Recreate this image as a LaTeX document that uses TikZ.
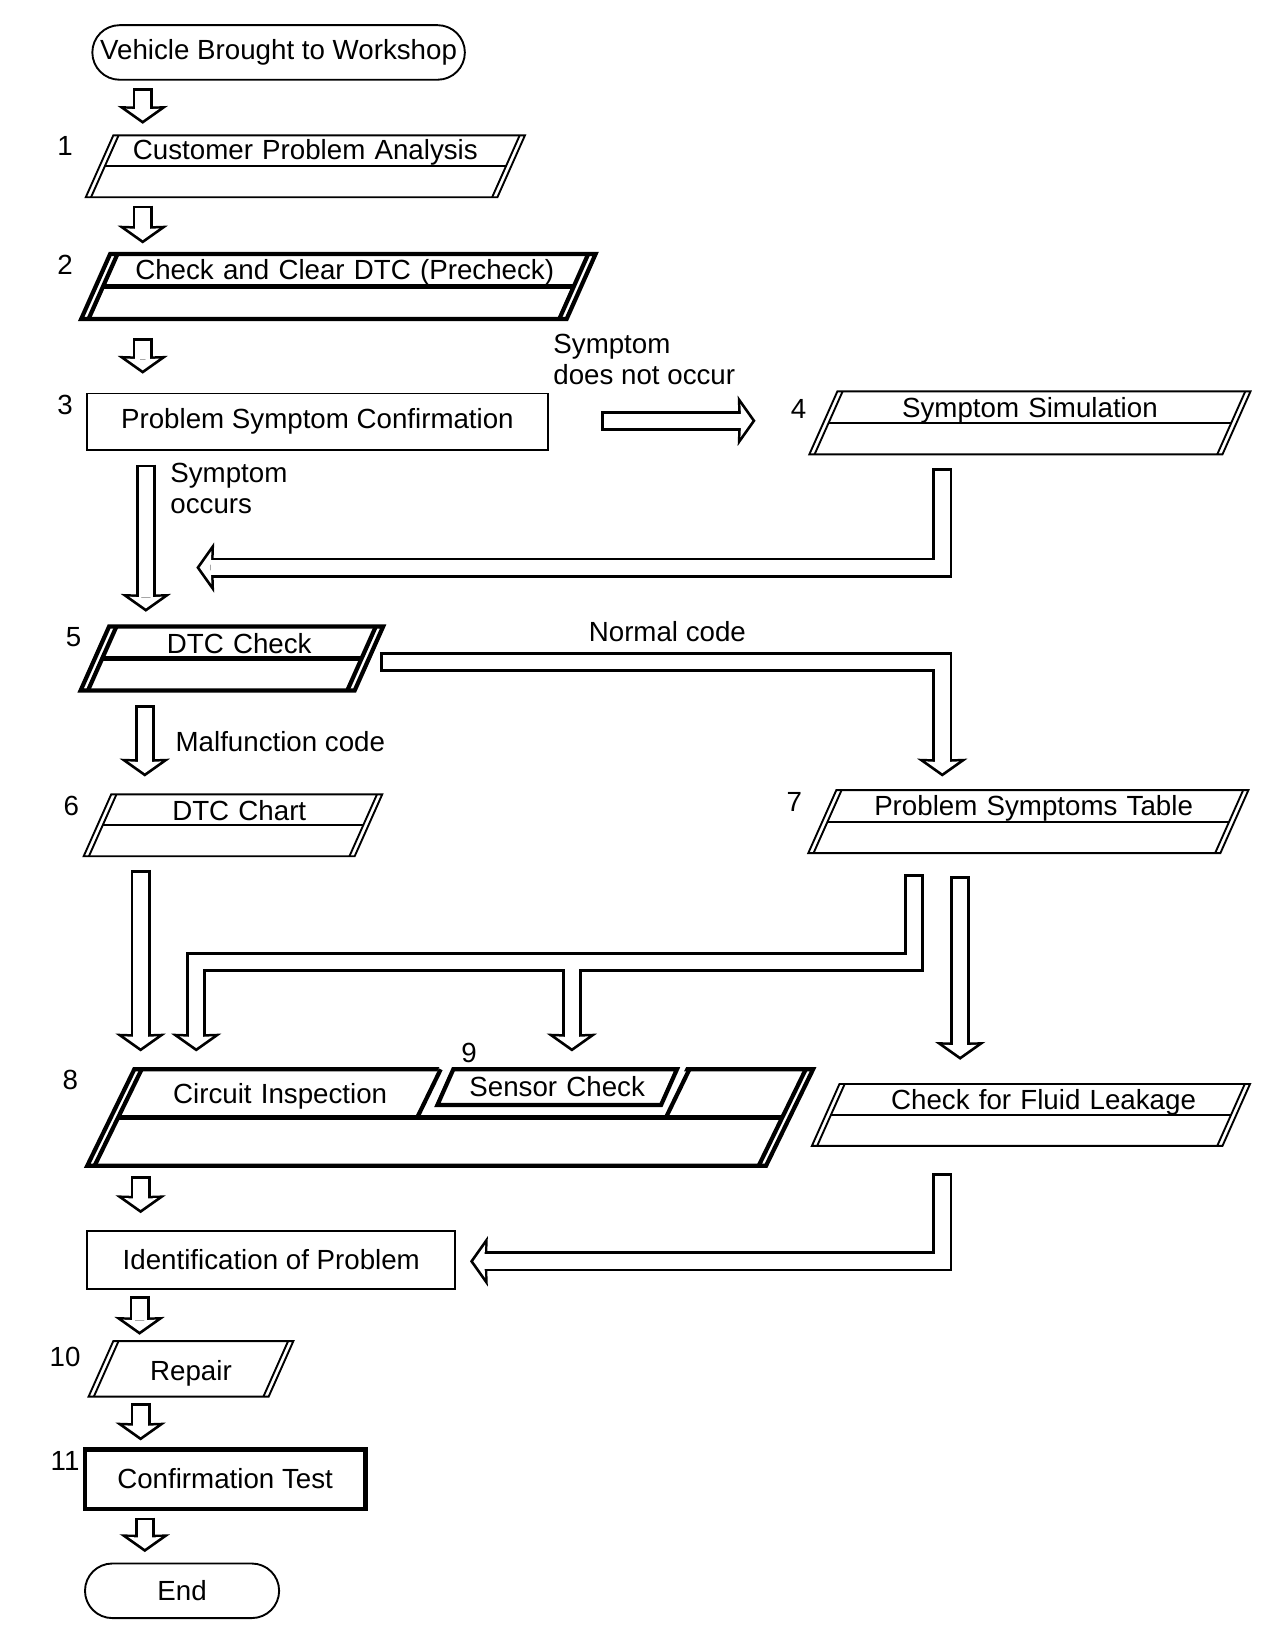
\documentclass[tikz,border=0pt]{standalone}
\usepackage{fontspec}
\setmainfont{Liberation Sans}
\usepackage{tikz}
\usetikzlibrary{arrows.meta}
\usetikzlibrary{calc}
\usetikzlibrary{shapes.geometric}
\newcommand\flowfont{\fontsize{13.2}{14.5}\selectfont}
\newcommand\slantsides[3]{%
  \draw[line width=#2] ($(#1.top left corner)+(#3,0)$) -- ($(#1.bottom left corner)+(#3,0)$)
                       ($(#1.top right corner)-(#3,0)$) -- ($(#1.bottom right corner)-(#3,0)$);}
\newcommand\slantrule[3]{%
  \draw[line width=#2] ($(#1.left side)+(#3,0)$) -- ($(#1.right side)-(#3,0)$);}
\tikzstyle{oval}=[draw, line width=.9pt, rounded corners=13pt, minimum height=26pt, inner sep=0pt]
\tikzstyle{plain}=[draw, line width=.9pt, inner sep=0pt]
\tikzstyle{slant}=[draw, line width=.9pt, shape=trapezium, trapezium left angle=66, trapezium right angle=114,
                   inner sep=0pt, outer sep=0pt, align=center, text height=12.25pt, text depth=17.75pt]
\tikzstyle{slantbold}=[slant, line width=2pt]
\tikzstyle{flow}=[draw=white, line width=6.9pt, shorten <=1.3pt, shorten >=1.6pt,
                  -{Stealth[width=15.8pt,length=5.6pt,inset=.4pt,line width=0pt]},
                  preaction={draw=black, line width=9.5pt, shorten <=0pt, shorten >=0pt,
                             -{Stealth[width=24pt,length=8.5pt,inset=.4pt,line width=0pt]}}]
\tikzstyle{flowjoin}=[draw=white, line width=6.9pt, shorten >=1.6pt,
                  -{Stealth[width=15.8pt,length=5.6pt,inset=.4pt,line width=0pt]},
                  preaction={draw=black, line width=9.5pt, shorten <=3.45pt, shorten >=0pt,
                             -{Stealth[width=24pt,length=8.5pt,inset=.4pt,line width=0pt]}}]
\tikzstyle{tag}=[inner sep=0pt]
\begin{document}
\begin{tikzpicture}[x=0.5pt, y=-0.5pt, every node/.style={font=\flowfont}]
	\fill[white] (0,0) rectangle (1220,1561);
	\useasboundingbox (0,0) rectangle (1220,1561);
	\coordinate (lane) at (136,0);

	% steps
	\node[oval, minimum width=177.5pt] (start) at (265.5,50) {Vehicle Brought to Workshop};
	\node[slant, text width=183pt, text height=11.5pt, text depth=18pt] (cpa) at (291,158.5) {Customer Problem Analysis};
	\node[slantbold, text width=217.5pt, text height=12.25pt, text depth=18.75pt] (dtcclr) at (322.5,273) {\hspace*{6pt}Check and Clear DTC (Precheck)};
	\node[plain, minimum width=219.5pt, minimum height=27pt] (psc) at (302.5,402) {Problem Symptom Confirmation};
	\node[slant, text width=183.5pt] (simul) at (981.5,403) {Symptom Simulation};
	\node[slantbold, text width=117pt, text height=12.75pt, text depth=17.75pt] (dtcchk) at (221,627.5) {\hspace*{7pt}DTC Check};
	\node[slant, text width=116pt, text depth=17.25pt] (dtcchart) at (222,786.5) {\hspace*{6pt}DTC Chart};
	\node[slant, text width=183pt] (pst) at (980,783) {\hspace*{5pt}Problem Symptoms Table};
	\node[slantbold, trapezium left angle=64, trapezium right angle=116, text width=301pt, align=left,
	      text height=16.25pt, text depth=29.75pt] (circ) at (429,1065) {\hspace*{18.5pt}Circuit Inspection};
	\node[slant, text width=182.5pt, text depth=17.25pt] (fluid) at (982.5,1062.5) {\hspace*{12pt}Check for Fluid Leakage};
	\node[plain, minimum width=175.5pt, minimum height=27.5pt] (ident) at (258.5,1200.5) {Identification of Problem};
	\node[slant, text width=74pt, text height=18.75pt, text depth=7.75pt] (repair) at (182,1304.5) {Repair};
	\node[plain, line width=2.3pt, minimum width=133.5pt, minimum height=28.5pt] (conftest) at (214.5,1409.5) {Confirmation Test};
	\node[oval, minimum width=92.5pt] (finish) at (173.5,1516) {End};

	\slantsides{cpa}{.9pt}{5}      \slantrule{cpa}{.9pt}{5}
	\slantsides{dtcclr}{2pt}{7}    \slantrule{dtcclr}{2pt}{7}
	\slantsides{simul}{.9pt}{5}    \slantrule{simul}{.9pt}{5}
	\slantsides{dtcchk}{2pt}{7}    \slantrule{dtcchk}{2pt}{7}
	\slantsides{dtcchart}{.9pt}{5} \slantrule{dtcchart}{.9pt}{5}
	\slantsides{pst}{.9pt}{5}      \slantrule{pst}{.9pt}{5}
	\slantsides{circ}{2pt}{7}      \slantrule{circ}{2pt}{7}
	\slantsides{fluid}{.9pt}{5}    \slantrule{fluid}{.9pt}{5}
	\slantsides{repair}{.9pt}{5}

	% notch of step 8 holding step 9
	\fill[white] (421,1012) -- (656,1012) -- (633,1061) -- (399,1061) -- cycle;
	\draw[line width=2pt] (420,1019) -- (397.6,1065) (657,1019) -- (634.6,1065);
	\node[slantbold, text width=99pt, text height=12.75pt, text depth=4.25pt] (sensor) at (531,1036) {Sensor Check};

	% step numbers
	\node (n1) at (62,139) {1};
	\node (n2) at (62,252) {2};
	\node (n3) at (62,386) {3};
	\node (n4) at (761,390) {4};
	\node (n5) at (70,607) {5};
	\node (n6) at (68,768) {6};
	\node (n7) at (757,764) {7};
	\node (n8) at (67,1029) {8};
	\node (n9) at (447,1003) {9};
	\node (n10) at (62,1293) {10};
	\node (n11) at (62,1392) {11};

	% branch texts
	\node[tag, align=left, anchor=west] (notocc) at (527,342.5) {Symptom\\does not occur};
	\node[tag, align=left, anchor=west] (occ) at (162,465.5) {Symptom\\occurs};
	\node[tag] (normal) at (636,602) {Normal code};
	\node[tag, anchor=west] (malf) at (167,707) {Malfunction code};

	% flow
	\draw[flow] ($(start.south -| lane)+(0,7)$) -- ($(cpa.center -| lane)+(0,-40.5)$);
	\draw[flow] ($(cpa.center -| lane)+(0,37.5)$) -- ($(dtcclr.center -| lane)+(0,-41)$);
	\draw[flow] ($(dtcclr.center -| lane)+(0,49)$) -- ($(psc.north -| lane)+(0,-18)$);
	\draw[flow] ($(psc.south -| lane)+(3,13)$) -- ($(dtcchk.center -| lane)+(3,-44.5)$);
	\draw[flow] ($(psc.east)+(50,-1)$) -- ($(simul.center)+(-261.5,-2)$);
	\draw[flow] ($(simul.center)+(-83.5,43)$) |- ($(psc.south west)+(105,111)$);
	\draw[flow] ($(dtcchk.center)+(141,3.5)$) -| ($(pst.center)+(-82,-43)$);
	\draw[flow] ($(dtcchk.center -| lane)+(2,44.5)$) -- ($(dtcchart.center -| lane)+(2,-46.5)$);
	\draw[flow] ($(dtcchart.center -| lane)+(-2,42.5)$) -- ($(circ.center -| lane)+(-2,-63)$);
	\draw[flow] ($(pst.center)+(-109,50)$) |- ($(circ.center)+(-242,-148)$) -- ($(circ.center)+(-242,-63)$);
	\draw[flowjoin] ($(sensor.center)+(14,-119)$) -- ($(sensor.center)+(14,-34)$);
	\draw[flow] ($(pst.center)+(-65,52)$) -- ($(fluid.center)+(-67.5,-52.5)$);
	\draw[flow] ($(fluid.center)+(-84.5,55.5)$) |- ($(ident.east)+(13,1.5)$);
	\draw[flow] ($(circ.center -| lane)+(-2,56)$) -- ($(ident.north -| lane)+(-2,-16)$);
	\draw[flow] ($(ident.south -| lane)+(-3,6)$) -- ($(repair.center -| lane)+(-3,-32.5)$);
	\draw[flow] ($(repair.center -| lane)+(-2,32.5)$) -- ($(conftest.north -| lane)+(-2,-6)$);
	\draw[flow] ($(conftest.south -| lane)+(2,6)$) -- ($(finish.north -| lane)+(2,-10)$);
\end{tikzpicture}
\end{document}
